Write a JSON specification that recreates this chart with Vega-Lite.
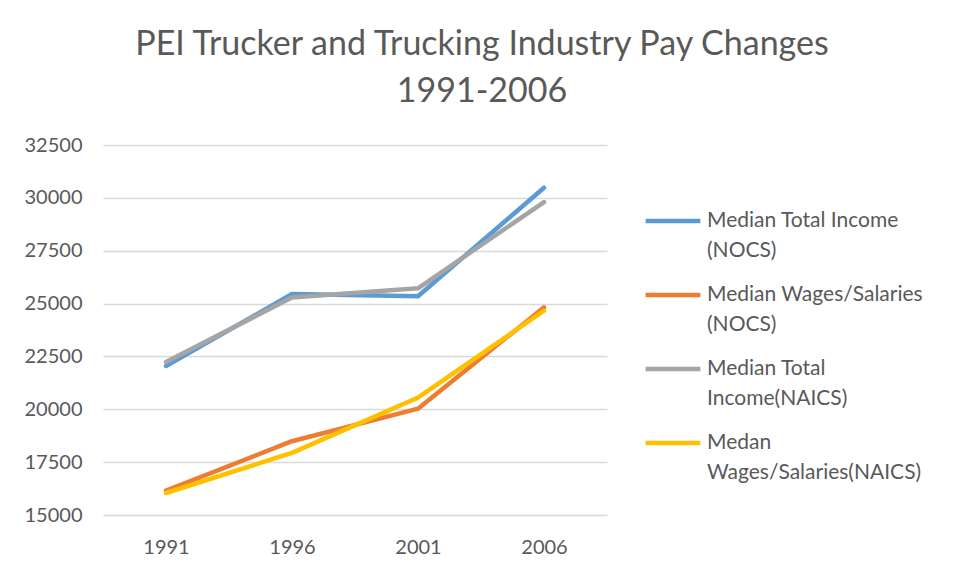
{
  "$schema": "https://vega.github.io/schema/vega-lite/v6.json",
  "autosize": {"type": "none"},
  "width": 504,
  "height": 370,
  "padding": {"top": 145, "left": 103, "right": 354, "bottom": 62},
  "background": "white",
  "title": {
    "text": ["PEI Trucker and Trucking Industry Pay Changes", "1991-2006"],
    "anchor": "middle",
    "dx": 127,
    "offset": 26,
    "font": "Lato",
    "fontSize": 34,
    "fontWeight": "normal",
    "lineHeight": 47,
    "color": "#595959"
  },
  "data": {
    "values": [
      {"year": "1991", "series": "Median Total Income (NOCS)", "pay": 22050},
      {"year": "1996", "series": "Median Total Income (NOCS)", "pay": 25450},
      {"year": "2001", "series": "Median Total Income (NOCS)", "pay": 25350},
      {"year": "2006", "series": "Median Total Income (NOCS)", "pay": 30480},
      {"year": "1991", "series": "Median Wages/Salaries (NOCS)", "pay": 16150},
      {"year": "1996", "series": "Median Wages/Salaries (NOCS)", "pay": 18490},
      {"year": "2001", "series": "Median Wages/Salaries (NOCS)", "pay": 20030},
      {"year": "2006", "series": "Median Wages/Salaries (NOCS)", "pay": 24820},
      {"year": "1991", "series": "Median Total Income(NAICS)", "pay": 22240},
      {"year": "1996", "series": "Median Total Income(NAICS)", "pay": 25290},
      {"year": "2001", "series": "Median Total Income(NAICS)", "pay": 25720},
      {"year": "2006", "series": "Median Total Income(NAICS)", "pay": 29800},
      {"year": "1991", "series": "Medan Wages/Salaries(NAICS)", "pay": 16040},
      {"year": "1996", "series": "Medan Wages/Salaries(NAICS)", "pay": 17940},
      {"year": "2001", "series": "Medan Wages/Salaries(NAICS)", "pay": 20550},
      {"year": "2006", "series": "Medan Wages/Salaries(NAICS)", "pay": 24660}
    ]
  },
  "mark": {"type": "line", "strokeWidth": 4.5, "strokeCap": "round", "strokeJoin": "round"},
  "encoding": {
    "x": {
      "field": "year",
      "type": "ordinal",
      "scale": {"type": "point", "padding": 0.5},
      "axis": {
        "title": null,
        "labelAngle": 0,
        "labelFont": "Lato",
        "labelFontSize": 20,
        "labelColor": "#595959",
        "labelPadding": 22,
        "ticks": false,
        "domain": false,
        "grid": false
      }
    },
    "y": {
      "field": "pay",
      "type": "quantitative",
      "scale": {"domain": [15000, 32500], "nice": false, "zero": false},
      "axis": {
        "title": null,
        "values": [15000, 17500, 20000, 22500, 25000, 27500, 30000, 32500],
        "format": "d",
        "labelFont": "Lato",
        "labelFontSize": 20,
        "labelColor": "#595959",
        "labelPadding": 21,
        "ticks": false,
        "domain": false,
        "grid": true,
        "gridColor": "#D9D9D9",
        "gridWidth": 1.3
      }
    },
    "color": {
      "field": "series",
      "type": "nominal",
      "scale": {
        "domain": ["Median Total Income (NOCS)", "Median Wages/Salaries (NOCS)", "Median Total Income(NAICS)", "Medan Wages/Salaries(NAICS)"],
        "range": ["#5B9BD5", "#ED7D31", "#A5A5A5", "#FFC000"]
      },
      "legend": {
        "title": null,
        "orient": "none",
        "legendX": 540,
        "legendY": 46,
        "symbolType": "stroke",
        "symbolSize": 3000,
        "symbolStrokeWidth": 4.5,
        "labelFont": "Lato",
        "labelFontSize": 21,
        "labelColor": "#595959",
        "labelLimit": 400,
        "labelOffset": 4,
        "rowPadding": 4,
        "labelExpr": "datum.label == 'Median Total Income (NOCS)' ? ['Median Total Income', '(NOCS)'] : datum.label == 'Median Wages/Salaries (NOCS)' ? ['Median Wages/Salaries', '(NOCS)'] : datum.label == 'Median Total Income(NAICS)' ? ['Median Total', 'Income(NAICS)'] : ['Medan', 'Wages/Salaries(NAICS)']",
        "encode": {
          "labels": {"update": {"lineHeight": {"value": 29.5}}}
        }
      }
    }
  },
  "config": {
    "view": {"stroke": null}
  }
}
